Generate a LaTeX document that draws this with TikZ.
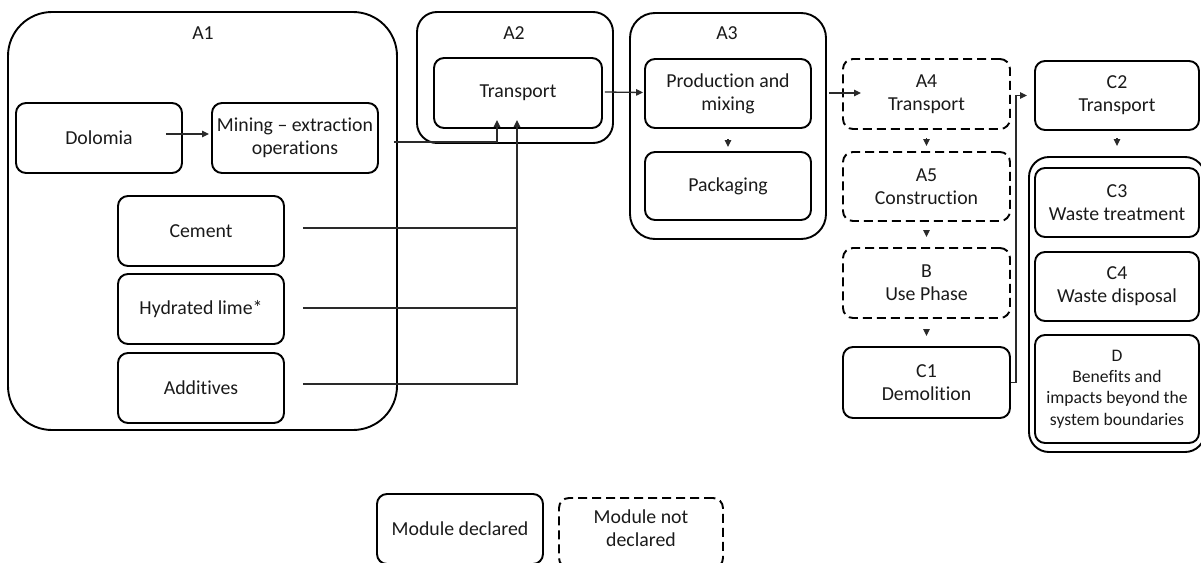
\documentclass[tikz,border=0pt]{standalone}
\usepackage{fontspec}
\setmainfont{Carlito}[Ligatures=NoCommon]
\usetikzlibrary{arrows.meta,calc}
\definecolor{txt}{HTML}{1A1A1A}
\definecolor{ln}{HTML}{2A2A2A}
\begin{document}
\begin{tikzpicture}[x=1pt,y=-1pt,
 every node/.style={font=\fontsize{19.8}{23}\selectfont, text=txt, inner sep=0pt, align=center},
 box/.style={draw=black, line width=1.9pt, rounded corners=10pt, minimum width=166pt, minimum height=70pt},
 dbox/.style={box, dash pattern=on 9pt off 5pt},
 grp/.style={draw=black, line width=1.9pt},
 conn/.style={line width=1.3pt, draw=ln},
 arr/.style={conn, -{Triangle[length=7pt,width=6.5pt]}}
]
\useasboundingbox (0,0) rectangle (1201,562);
% group frames
\node[grp, rounded corners=44pt, minimum width=389pt, minimum height=418pt] (A1) at (202.5,221) {};
\node (lA1) at (203,33) {A1};
\node[grp, rounded corners=20pt, minimum width=196pt, minimum height=131pt] (A2) at (515,77.5) {};
\node (lA2) at (514,33) {A2};
\node[grp, rounded corners=25pt, minimum width=196pt, minimum height=226pt] (A3) at (728,126) {};
\node (lA3) at (727,33) {A3};
\node[grp, rounded corners=20pt, minimum width=176pt, minimum height=295pt] (CG) at (1117,304.5) {};
% A1 content
\node[box] (dol) at (99,138) {Dolomia};
\node[box] (min) at (295,138) {Mining -- extraction\\operations};
\node[box] (cem) at (201,231) {Cement};
\node[box] (lime) at (201,309) {Hydrated lime*};
\node[box] (add) at (201,388) {Additives};
% A2, A3
\node[box, minimum width=168pt] (tra) at (518,93) {Transport};
\node[box, minimum height=69pt] (pro) at (728,93.5) {Production and\\mixing};
\node[box, minimum height=68pt] (pack) at (728,186) {Packaging};
% A4 - C1
\node[dbox, minimum width=167pt] (a4) at (926.5,94) {A4\\Transport};
\node[dbox, minimum width=167pt, minimum height=69pt] (a5) at (926.5,186.5) {A5\\Construction};
\node[dbox, minimum width=167pt] (b) at (926.5,283) {B\\Use Phase};
\node[box, minimum width=167pt, minimum height=71pt] (c1) at (926.5,382.5) {C1\\Demolition};
% C
\node[box, minimum width=164pt, minimum height=69pt] (c2) at (1117,95.5) {C2\\Transport};
\node[box, minimum width=164pt, minimum height=69pt] (c3) at (1117,202.5) {C3\\Waste treatment};
\node[box, minimum width=164pt, minimum height=69pt] (c4) at (1117,286.5) {C4\\Waste disposal};
\node[box, minimum width=164pt, minimum height=108pt, font=\fontsize{17.6}{21.3}\selectfont] (d) at (1117,389) {D\\Benefits and\\impacts beyond the\\system boundaries};
% legend
\node[box] (leg1) at (460,529) {Module declared};
\node[dbox, minimum width=164pt] (leg2) at (641,533) {};
\node (leg2t) at (641,528.5) {Module not\\declared};
% connectors
\draw[arr] ($(dol.east)+(-17,-4)$) -- ($(min.west)+(-2,-4)$);
\coordinate (bus) at (517,142);
\draw[arr] ($(min.east)+(15,4)$) -| ($(tra.south)+(-21,-9)$);
\draw[arr] ($(add.east)+(18,-4)$) -| ($(tra.south)+(-1,-9)$);
\path ($(cem.east)+(18,-3)$) coordinate (cemL);
\path ($(lime.east)+(18,-1)$) coordinate (limeL);
\draw[conn] (cemL) -- (cemL -| bus);
\draw[conn] (limeL) -- (limeL -| bus);
\draw[arr] ($(tra.east)+(2,-1)$) -- ($(pro.west)+(-1,-1)$);
\draw[arr] ($(pro.south)+(0,10)$) -- ($(pack.north)+(0,-4)$);
\draw[arr] ($(pro.east)+(17,-0.5)$) -- ($(a4.west)+(19,-1)$);
\draw[arr] ($(a4.south)+(0,8)$) -- ($(a5.north)+(0,-5)$);
\draw[arr] ($(a5.south)+(0,8)$) -- ($(b.north)+(0,-10)$);
\draw[arr] ($(b.south)+(0,10)$) -- ($(c1.north)+(0,-10)$);
\draw[arr] ($(c2.south)+(0,7)$) -- ($(CG.north)+(0,-10)$);
\draw[arr] (c1.east) -- ++(5,0) |- ($(c2.west)+(-7,0)$);
\end{tikzpicture}
\end{document}
